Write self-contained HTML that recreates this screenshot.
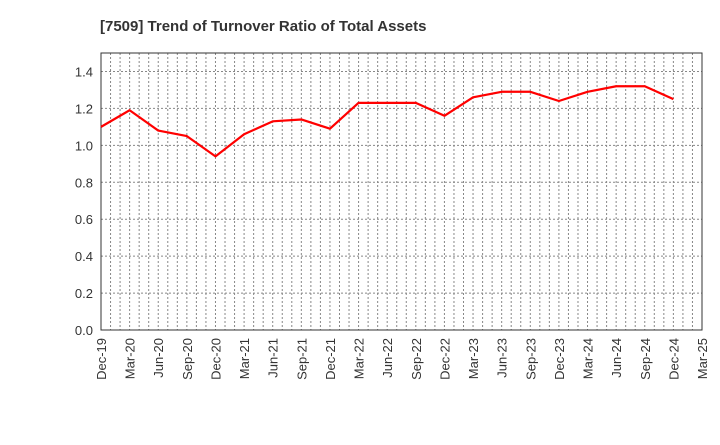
<!DOCTYPE html>
<html><head><meta charset="utf-8"><style>
body{margin:0;background:#fff;font-family:"Liberation Sans",sans-serif}
svg text{font-family:"Liberation Sans",sans-serif}
</style></head><body>
<svg id="chart" width="720" height="440">
<text x="100" y="31" font-size="15" font-weight="bold" fill="#333">[7509]  Trend of Turnover Ratio of Total Assets</text>
<g id="grid"></g><g id="axes"></g><g id="series"></g>
</svg>
<script>
const categories=["Dec-19","Mar-20","Jun-20","Sep-20","Dec-20","Mar-21","Jun-21","Sep-21","Dec-21","Mar-22","Jun-22","Sep-22","Dec-22","Mar-23","Jun-23","Sep-23","Dec-23","Mar-24","Jun-24","Sep-24","Dec-24","Mar-25"];
const values=[1.10,1.19,1.08,1.05,0.94,1.06,1.13,1.14,1.09,1.23,1.23,1.23,1.16,1.26,1.29,1.29,1.24,1.29,1.32,1.32,1.25];
const yTicks=[0.0,0.2,0.4,0.6,0.8,1.0,1.2,1.4];
const NS="http://www.w3.org/2000/svg";
const L=101,R=702,T=53,B=330,yMax=1.5;
const step=(R-L)/(categories.length-1);
const x=i=>L+i*step, y=v=>B-(v/yMax)*(B-T);
function mk(tag,attrs,parent){const e=document.createElementNS(NS,tag);for(const k in attrs)e.setAttribute(k,attrs[k]);document.getElementById(parent).appendChild(e);return e;}
for(let m=1;m<(categories.length-1)*3;m++){const gx=L+m*step/3;
const g=mk("line",{x1:gx,x2:gx,y1:T,y2:B,stroke:"#888","stroke-dasharray":"2,2","stroke-width":1},"grid");

}
yTicks.forEach(v=>{if(v>0){const g=mk("line",{x1:L,x2:R,y1:y(v),y2:y(v),stroke:"#888","stroke-dasharray":"2,2","stroke-width":1},"grid");

}
const t=mk("text",{x:L-8,y:y(v)+5,"text-anchor":"end","font-size":13,fill:"#333"},"axes");t.textContent=v.toFixed(1);

});
const f=mk("rect",{x:L,y:T,width:R-L,height:B-T,fill:"none",stroke:"#333","stroke-width":1},"axes");


categories.forEach((c,i)=>{const t=mk("text",{transform:`translate(${x(i)+5},${B+8}) rotate(-90)`,"text-anchor":"end","font-size":13,fill:"#333"},"axes");t.textContent=c;

});
const p=mk("polyline",{points:values.map((v,i)=>x(i)+","+y(v)).join(" "),fill:"none",stroke:"#f00","stroke-width":2.2,"stroke-linejoin":"round"},"series");


</script>
</body></html>
